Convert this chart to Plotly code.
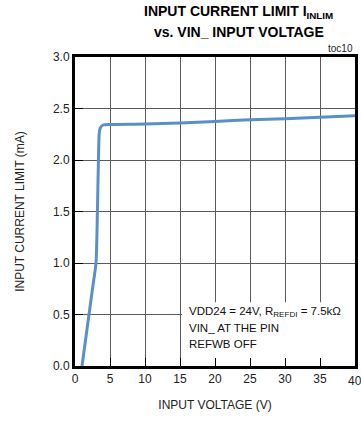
import plotly.graph_objects as go

# Input current limit vs. VIN_ input voltage
vin_v = [1.0, 1.5, 2.0, 2.5, 3.0, 3.2, 3.35, 3.45, 3.6, 4.0, 5, 10, 15, 20, 25, 30, 35, 40]
i_lim_ma = [0.0, 0.25, 0.5, 0.75, 1.0, 1.5, 2.0, 2.25, 2.31, 2.34, 2.345, 2.35, 2.36, 2.375,
            2.39, 2.40, 2.415, 2.43]

x_ticks = [0, 5, 10, 15, 20, 25, 30, 35, 40]
y_ticks = [0.0, 0.5, 1.0, 1.5, 2.0, 2.5, 3.0]
y_tick_text = ["0.0", "0.5", "1.0", "1.5", "2.0", "2.5", "3.0"]

FONT = "Liberation Sans, Arial, sans-serif"
TXT = "#222"

fig = go.Figure()
fig.add_trace(go.Scatter(
    x=vin_v, y=i_lim_ma, mode="lines",
    line=dict(color="#5b8fcb", width=3, shape="spline", smoothing=0.6),
    showlegend=False, hoverinfo="skip",
))

axis_common = dict(
    showline=True, linecolor="black", linewidth=3, mirror=True,
    showgrid=True, gridcolor="#5a5a5a", gridwidth=1,
    zeroline=False, tickfont=dict(family=FONT, size=12, color=TXT),
    ticks="inside", ticklen=8, tickcolor="black", tickwidth=1,
)

fig.update_xaxes(
    range=[0, 40], tickvals=x_ticks,
    title=dict(text="INPUT VOLTAGE (V)", font=dict(family=FONT, size=12, color=TXT), standoff=16),
    **axis_common,
)
fig.update_yaxes(
    range=[0, 3.0], tickvals=y_ticks, ticktext=y_tick_text,
    title=dict(text="INPUT CURRENT LIMIT (mA)", font=dict(family=FONT, size=12, color=TXT), standoff=26),
    **axis_common,
)

# the last x tick label sits on the right edge of the page
fig.add_annotation(x=x_ticks[-1], y=0, xref="x", yref="paper", text=str(x_ticks[-1]),
                   showarrow=False, xanchor="center", yanchor="top", yshift=-6,
                   font=dict(family=FONT, size=12, color=TXT))

# white panel behind the operating-condition notes
fig.add_shape(type="rect", xref="x", yref="y", x0=15.3, x1=40, y0=0.07, y1=0.62,
              fillcolor="white", line=dict(width=0), layer="between")

notes = ["VDD24 = 24V, R<sub>REFDI</sub> = 7.5kΩ", "VIN_ AT THE PIN", "REFWB OFF"]
for k, txt in enumerate(notes):
    fig.add_annotation(x=16.0, y=0.52 - k * 0.155, xref="x", yref="y", text=txt,
                       showarrow=False, xanchor="left", yanchor="middle",
                       font=dict(family=FONT, size=11.5, color="#111"))

fig.add_annotation(x=1.0, y=1.0, xref="paper", yref="paper", text="toc10",
                   showarrow=False, xanchor="right", yanchor="bottom", yshift=1,
                   font=dict(family=FONT, size=10, color=TXT))

# two-line bold title
fig.add_annotation(x=0.585, y=1.0, xref="paper", yref="paper", yshift=34,
                   text="<b>INPUT CURRENT LIMIT I<sub>INLIM</sub></b>",
                   showarrow=False, xanchor="center", yanchor="bottom",
                   font=dict(family=FONT, size=14, color="black"))
fig.add_annotation(x=0.585, y=1.0, xref="paper", yref="paper", yshift=15,
                   text="<b>vs. VIN_ INPUT VOLTAGE</b>",
                   showarrow=False, xanchor="center", yanchor="bottom",
                   font=dict(family=FONT, size=14, color="black"))

fig.update_layout(
    width=361, height=423,
    margin=dict(l=75, r=3, t=57, b=57),
    paper_bgcolor="white", plot_bgcolor="white",
)

fig.write_html("out.html")
